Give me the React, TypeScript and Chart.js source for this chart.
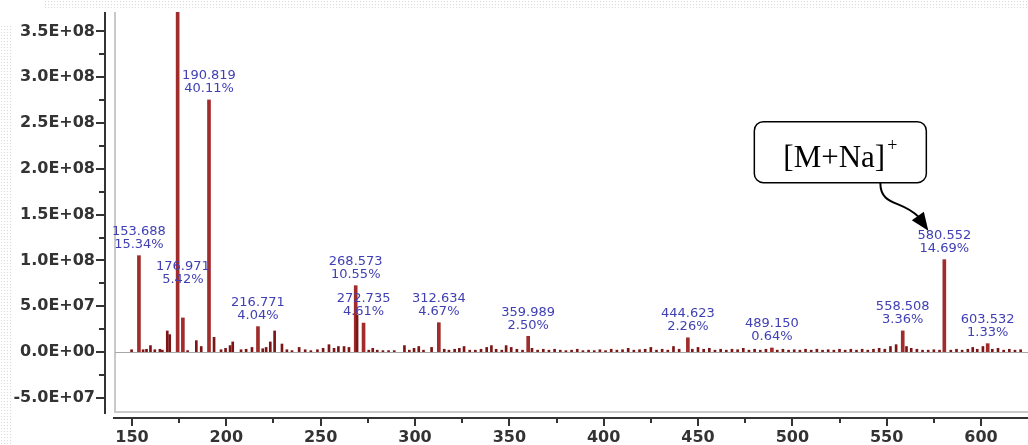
import React, { useEffect, useRef } from "react";
import { Chart, registerables } from "chart.js";

Chart.register(...registerables);

// Labelled peaks (m/z, intensity, relative abundance)
const peakMz = [153.688, 174.2, 176.971, 190.819, 216.771, 268.573, 272.735, 312.634, 359.989, 444.623, 489.15, 558.508, 580.552, 603.532];
const peakIntensity = [1.052e8, 6.86e8, 3.72e7, 2.752e8, 2.77e7, 7.24e7, 3.16e7, 3.2e7, 1.715e7, 1.55e7, 4.4e6, 2.305e7, 1.008e8, 9.1e6];
const peakPercent = ["15.34%", "100%", "5.42%", "40.11%", "4.04%", "10.55%", "4.61%", "4.67%", "2.50%", "2.26%", "0.64%", "3.36%", "14.69%", "1.33%"];

// Small unlabelled peaks
const noiseMz = [
  149.8, 155.9, 157.7, 159.8, 162.1, 164.8, 166.1, 168.7, 170.0, 179.5, 184.1, 186.7, 193.5, 197.2, 199.6, 202.0, 203.4, 207.8, 210.5, 213.6,
  219.3, 221.1, 223.3, 225.6, 229.5, 232.1, 234.8, 238.6, 241.8, 244.8, 248.3, 251.3, 254.4, 257.1, 259.4, 262.4, 265.0, 269.3, 275.5, 277.6,
  280.0, 283.0, 286.0, 289.0, 294.4, 297.0, 299.5, 302.0, 304.5, 308.8, 315.5, 318.0, 321.0, 323.5, 326.0, 329.0, 332.0, 335.0, 338.0, 340.5,
  343.0, 346.0, 348.3, 351.0, 354.0, 357.0, 362.0, 365.0, 368.0, 371.0, 374.0, 377.0, 380.0, 383.0, 386.0, 389.0, 392.0, 395.0, 398.0, 401.0,
  404.0, 407.0, 410.0, 413.0, 416.0, 419.0, 422.0, 425.0, 428.0, 431.0, 434.0, 437.0, 440.0, 447.0, 450.0, 453.0, 456.0, 459.0, 462.0, 465.0,
  468.0, 471.0, 474.0, 477.0, 480.0, 483.0, 486.0, 492.0, 495.0, 498.0, 501.0, 504.0, 507.0, 510.0, 513.0, 516.0, 519.0, 522.0, 525.0, 528.0,
  531.0, 534.0, 537.0, 540.0, 543.0, 546.0, 549.0, 552.0, 555.0, 560.5, 563.0, 566.0, 569.0, 572.0, 575.0, 578.0, 584.0, 587.0, 590.0, 593.0,
  595.6, 598.0, 601.0, 606.0, 609.0, 612.0, 615.0, 618.0, 621.0,
];
const noiseIntensity = [
  2.5e6, 2.5e6, 3e6, 7e6, 2.5e6, 3e6, 2e6, 2.3e7, 1.9e7, 1.5e6, 1.24e7, 6e6, 1.6e7, 2.5e6, 4e6, 7e6, 1.1e7, 2.5e6, 3e6, 5e6,
  3.6e6, 5e6, 1.1e7, 2.3e7, 8.7e6, 2.5e6, 1.5e6, 5e6, 2.5e6, 1.5e6, 2.5e6, 4e6, 8e6, 4e6, 6e6, 6e6, 5e6, 4.0e7, 2e6, 4e6,
  2e6, 1.5e6, 1.5e6, 1.5e6, 7e6, 2e6, 4e6, 6e6, 2e6, 5e6, 3e6, 2e6, 3e6, 4e6, 6e6, 2e6, 2e6, 3e6, 5e6, 7e6,
  3e6, 2e6, 7e6, 5e6, 3e6, 2e6, 4e6, 2e6, 3e6, 2e6, 3e6, 2e6, 1.5e6, 2e6, 3e6, 1.5e6, 2e6, 1.5e6, 2.5e6, 1.5e6,
  3e6, 2e6, 2.5e6, 4e6, 2e6, 2.5e6, 3e6, 5e6, 2e6, 3e6, 2e6, 6e6, 3e6, 3e6, 5e6, 3e6, 4e6, 2e6, 3e6, 2e6,
  3e6, 2.5e6, 4e6, 2e6, 3e6, 2e6, 3e6, 2e6, 3e6, 2e6, 2.5e6, 2e6, 3e6, 2e6, 3e6, 2e6, 2.5e6, 2e6, 3e6, 2e6,
  3e6, 2e6, 3e6, 2e6, 3e6, 4e6, 3e6, 6e6, 8e6, 6e6, 4e6, 3e6, 2e6, 2e6, 2.5e6, 2e6, 2e6, 3e6, 2e6, 3e6,
  5e6, 3e6, 6e6, 3e6, 4e6, 2e6, 3e6, 2e6, 2.5e6,
];

// Axes
const xTickValues = [150, 200, 250, 300, 350, 400, 450, 500, 550, 600];
const yTickValues = [-5e7, 0, 5e7, 1e8, 1.5e8, 2e8, 2.5e8, 3e8, 3.5e8];
const xMin = 141;
const xMax = 624.9;
const yMin = -6.55e7;
const yMax = 3.712e8;

const annotationText = "[M+Na]";
const annotationSup = "+";
const annotatedMz = 580.552;

function sci(v: number): string {
  if (v === 0) return "0.0E+00";
  const e = Math.floor(Math.log10(Math.abs(v)) + 1e-9);
  const m = v / Math.pow(10, e);
  return `${m.toFixed(1)}E${e >= 0 ? "+" : "-"}${String(Math.abs(e)).padStart(2, "0")}`;
}

const labelLift: Record<string, number> = { "176.971": 27 };

export default function App() {
  const ref = useRef<HTMLCanvasElement>(null);

  useEffect(() => {
    const canvas = ref.current;
    if (!canvas) return;

    const decor = {
      id: "decor",
      beforeDraw(chart: any) {
        const ctx = chart.ctx as CanvasRenderingContext2D;
        ctx.save();
        ctx.fillStyle = "#ffffff";
        ctx.fillRect(0, 0, chart.width, chart.height);
        ctx.fillStyle = "#dadada";
        for (let y = 1; y <= 9; y += 3) {
          for (let x = 45; x < chart.width; x += 3) ctx.fillRect(x, y, 1, 1);
        }
        for (let x = 1; x <= 10; x += 3) {
          for (let y = 26; y < chart.height; y += 3) ctx.fillRect(x, y, 1, 1);
        }
        ctx.restore();
      },
      afterDatasetsDraw(chart: any) {
        const ctx = chart.ctx as CanvasRenderingContext2D;
        const xs = chart.scales.x;
        const ys = chart.scales.y;
        const area = chart.chartArea;
        ctx.save();

        // plot frame and zero baseline
        ctx.strokeStyle = "#c9c9c9";
        ctx.lineWidth = 2;
        ctx.beginPath();
        ctx.moveTo(area.left, area.top);
        ctx.lineTo(area.left, area.bottom);
        ctx.lineTo(area.right, area.bottom);
        ctx.stroke();
        const y0 = Math.round(ys.getPixelForValue(0)) + 0.5;
        ctx.strokeStyle = "#a8a8a8";
        ctx.lineWidth = 1;
        ctx.beginPath();
        ctx.moveTo(area.left, y0);
        ctx.lineTo(area.right, y0);
        ctx.stroke();

        // Y axis line with ticks
        const axX = area.left - 10;
        ctx.strokeStyle = "#333";
        ctx.lineWidth = 2;
        ctx.beginPath();
        ctx.moveTo(axX, area.top);
        ctx.lineTo(axX, area.bottom + 2);
        ctx.stroke();
        const yt = ys.ticks.map((t: any) => t.value);
        const yStep = yt[1] - yt[0];
        ctx.beginPath();
        yt.forEach((v: number) => {
          const p = Math.round(ys.getPixelForValue(v));
          ctx.moveTo(axX - 9, p);
          ctx.lineTo(axX, p);
        });
        for (let v = yt[0] - yStep / 2; v <= yMax; v += yStep) {
          if (v < yMin) continue;
          const p = Math.round(ys.getPixelForValue(v));
          ctx.moveTo(axX - 6, p);
          ctx.lineTo(axX, p);
        }
        ctx.stroke();

        // X axis line with ticks
        const axY = area.bottom + 6;
        ctx.beginPath();
        ctx.moveTo(area.left - 2, axY);
        ctx.lineTo(area.right, axY);
        ctx.stroke();
        const xt = xs.ticks.map((t: any) => t.value);
        const xStep = xt[1] - xt[0];
        ctx.beginPath();
        xt.forEach((v: number) => {
          const p = Math.round(xs.getPixelForValue(v));
          ctx.moveTo(p, axY);
          ctx.lineTo(p, axY + 8);
        });
        for (let v = xt[0] - xStep / 2; v <= xMax; v += xStep) {
          if (v < xMin) continue;
          const p = Math.round(xs.getPixelForValue(v));
          ctx.moveTo(p, axY);
          ctx.lineTo(p, axY + 5);
        }
        ctx.stroke();

        // peak labels
        ctx.font = '13px "DejaVu Sans"';
        ctx.fillStyle = "#4040b4";
        ctx.textAlign = "center";
        ctx.textBaseline = "middle";
        peakMz.forEach((mz, i) => {
          const px = xs.getPixelForValue(mz);
          const top = ys.getPixelForValue(peakIntensity[i]);
          const key = mz.toFixed(3);
          const lift = labelLift[key] || 0;
          const y2 = top - 11 - lift;
          const y1 = y2 - 13;
          if (y1 < area.top) return;
          ctx.fillText(key, px, y1);
          ctx.fillText(peakPercent[i], px, y2);
        });

        // [M+Na]+ annotation
        const idx = peakMz.indexOf(annotatedMz);
        const apx = xs.getPixelForValue(annotatedMz);
        const atop = ys.getPixelForValue(peakIntensity[idx]);
        const bx = apx - 190;
        const by = atop - 138;
        const bw = 172;
        const bh = 61;
        ctx.beginPath();
        (ctx as any).roundRect(bx, by, bw, bh, 9);
        ctx.fillStyle = "#fff";
        ctx.fill();
        ctx.strokeStyle = "#000";
        ctx.lineWidth = 1.5;
        ctx.stroke();
        ctx.fillStyle = "#000";
        ctx.textAlign = "left";
        ctx.textBaseline = "alphabetic";
        ctx.font = '31px "Liberation Serif"';
        const w1 = ctx.measureText(annotationText).width;
        ctx.font = '18px "Liberation Serif"';
        const w2 = ctx.measureText(annotationSup).width;
        const tx = bx + bw / 2 - (w1 + w2 + 2) / 2;
        const ty = by + 45;
        ctx.font = '31px "Liberation Serif"';
        ctx.fillText(annotationText, tx, ty);
        ctx.font = '18px "Liberation Serif"';
        ctx.fillText(annotationSup, tx + w1 + 2, ty - 16);

        // curved arrow
        const sx = apx - 64;
        const sy = by + bh;
        const ex = apx - 26;
        const ey = atop - 43;
        ctx.beginPath();
        ctx.moveTo(sx, sy);
        ctx.bezierCurveTo(sx, sy + 24, apx - 42, atop - 60, ex, ey);
        ctx.lineWidth = 2;
        ctx.stroke();
        const tipX = apx - 16;
        const tipY = atop - 29;
        ctx.beginPath();
        ctx.moveTo(tipX, tipY);
        ctx.lineTo(apx - 32.5, atop - 39.5);
        ctx.lineTo(apx - 20.5, atop - 48);
        ctx.closePath();
        ctx.fill();

        ctx.restore();
      },
    };

    const tickFont = { family: '"DejaVu Sans"', size: 16, weight: "bold" as const };

    const chart = new Chart(canvas, {
      type: "bar",
      data: {
        datasets: [
          {
            data: noiseMz.map((x, i) => ({ x, y: noiseIntensity[i] })),
            backgroundColor: "#7c1616",
            barThickness: 2,
            grouped: false,
          } as any,
          {
            data: peakMz.map((x, i) => ({ x, y: peakIntensity[i] })),
            backgroundColor: "#a12c2c",
            barThickness: 3,
            grouped: false,
          } as any,
        ],
      },
      options: {
        animation: false,
        responsive: false,
        devicePixelRatio: 1,
        layout: { padding: { top: 12, right: 0, left: 0, bottom: 0 } },
        plugins: { legend: { display: false }, tooltip: { enabled: false } },
        scales: {
          x: {
            type: "linear",
            min: xMin,
            max: xMax,
            offset: false,
            grid: { display: false, drawTicks: false },
            border: { display: false },
            afterBuildTicks(s: any) {
              s.ticks = xTickValues.map((v) => ({ value: v }));
            },
            ticks: {
              autoSkip: false,
              maxRotation: 0,
              padding: 16,
              color: "#333",
              font: tickFont,
              callback: (v: any) => String(v),
            },
            afterFit(s: any) {
              s.height = 33;
              s.paddingLeft = 0;
              s.paddingRight = 0;
            },
          },
          y: {
            type: "linear",
            min: yMin,
            max: yMax,
            grid: { display: false, drawTicks: false },
            border: { display: false },
            afterBuildTicks(s: any) {
              s.ticks = yTickValues.map((v) => ({ value: v }));
            },
            ticks: {
              autoSkip: false,
              padding: 20,
              color: "#333",
              font: tickFont,
              callback: (v: any) => sci(Number(v)),
            },
            afterFit(s: any) {
              s.width = 115;
              s.paddingTop = 0;
              s.paddingBottom = 0;
            },
          },
        },
      } as any,
      plugins: [decor],
    });

    return () => chart.destroy();
  }, []);

  return (
    <div style={{ position: "absolute", left: 0, top: 0, width: 1028, height: 445, background: "#fff" }}>
      <canvas ref={ref} width={1028} height={445} style={{ display: "block" }} />
    </div>
  );
}
